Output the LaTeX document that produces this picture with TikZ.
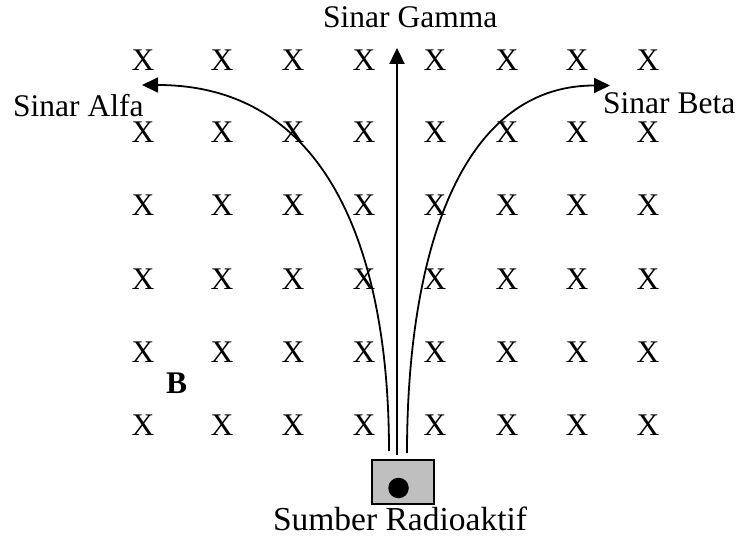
\documentclass[tikz,border=0pt]{standalone}
\usepackage{fontspec}
\setmainfont{Liberation Serif}
\usetikzlibrary{arrows.meta,positioning}
\begin{document}
\begin{tikzpicture}[
  x=1pt,y=-1pt,
  font=\fontsize{31.5}{36}\selectfont,
  cross/.style={inner sep=0pt},
  lbl/.style={inner sep=0pt,anchor=base west},
  ray/.style={line width=1.8pt,-{Triangle[length=16pt,width=15pt]}},
  srcbox/.style={draw,line width=2pt,fill=black!25,minimum width=62.5pt,minimum height=43.7pt,inner sep=0pt}
]
\useasboundingbox (0,0) rectangle (739,537);
% field B (into the page)
\foreach \cx [count=\i] in {143,222,293,364,435,507,577,648}
  \foreach \cy [count=\j] in {60.5,132,205,279,352,425}
    \node[cross] (x\i-\j) at (\cx,\cy) {X};
\node[lbl] (B) at (166,393) {\bfseries B};
% source
\node[srcbox] (src) at (403,482) {};
\node[circle,fill=black,minimum size=20.5pt,inner sep=0pt] (dot) at (398.5,488) {};
\node[inner sep=0pt,anchor=base,font=\fontsize{33.5}{38}\selectfont] (srclbl) at (400,530) {Sumber Radioaktif};
% ray ends
\coordinate (a0) at (389,451);
\coordinate (g0) at (397,455);
\coordinate (b0) at (407,453);
\coordinate (atip) at (142,85);
\coordinate (gtip) at (397,48);
\coordinate (btip) at (610,85.5);
% labels
\node[lbl] (alfa) at (13,116.5) {Sinar Alfa};
\node[lbl] (gamma) at (323,28) {Sinar Gamma};
\node[lbl] (beta) at (603,113.5) {Sinar Beta};
% rays
\draw[ray] (a0) .. controls (389,265) and (335,85) .. (atip);
\draw[ray,line width=2.4pt] (g0) -- (gtip);
\draw[ray] (b0) .. controls (407,265) and (455,85.5) .. (btip);
\end{tikzpicture}
\end{document}
